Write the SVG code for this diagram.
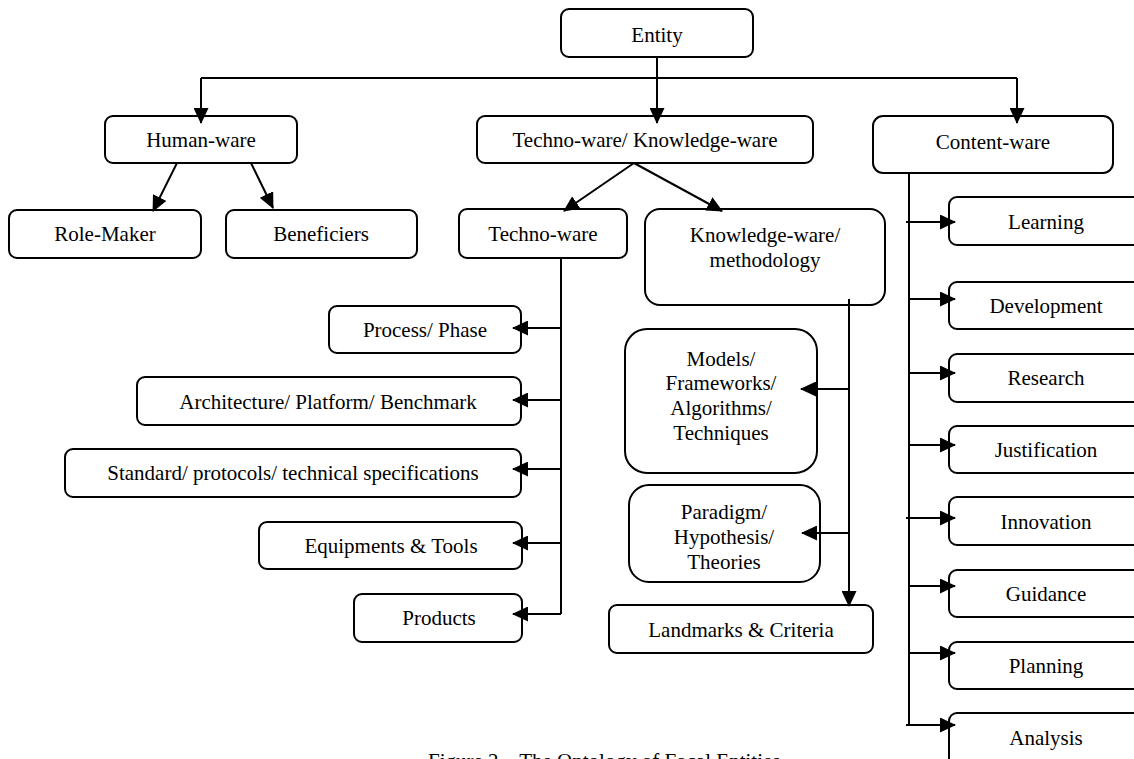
<svg xmlns="http://www.w3.org/2000/svg" width="1134" height="759" viewBox="0 0 1134 759">
<style>
.b{fill:#fff;stroke:#000;stroke-width:2}
.t{font-family:"Liberation Serif","Times New Roman",serif;font-size:21px;fill:#000;text-anchor:middle}
.c{fill:none;stroke:#000;stroke-width:2}
</style>
<defs>
<marker id="ah" viewBox="0 0 16 15" refX="15" refY="7.5" markerWidth="16" markerHeight="15" markerUnits="userSpaceOnUse" orient="auto"><path d="M0,0 L16,7.5 L0,15 z" fill="#000"/></marker>
</defs>
<rect width="1134" height="759" fill="#fff"/>

<g id="entity"><rect class="b" x="561" y="9" width="192" height="48" rx="8"/><text class="t" x="657" y="42">Entity</text></g>
<g id="humanware"><rect class="b" x="105" y="116" width="192" height="47" rx="8"/><text class="t" x="201" y="147">Human-ware</text></g>
<g id="techknow"><rect class="b" x="477" y="116" width="336" height="47" rx="8"/><text class="t" x="645" y="147">Techno-ware/ Knowledge-ware</text></g>
<g id="contentware"><rect class="b" x="873" y="116" width="240" height="57" rx="10"/><text class="t" x="993" y="149">Content-ware</text></g>
<g id="rolemaker"><rect class="b" x="9" y="210" width="192" height="48" rx="8"/><text class="t" x="105" y="241">Role-Maker</text></g>
<g id="beneficiers"><rect class="b" x="226" y="210" width="191" height="48" rx="8"/><text class="t" x="321" y="241">Beneficiers</text></g>
<g id="technoware"><rect class="b" x="459" y="209" width="168" height="49" rx="8"/><text class="t" x="543" y="241">Techno-ware</text></g>
<g id="knowledgeware"><rect class="b" x="645" y="209" width="240" height="96" rx="15"/><text class="t" x="765" y="242">Knowledge-ware/</text><text class="t" x="765" y="267">methodology</text></g>
<g id="process"><rect class="b" x="329" y="306" width="192" height="47" rx="8"/><text class="t" x="425" y="337">Process/ Phase</text></g>
<g id="architecture"><rect class="b" x="137" y="377" width="384" height="48" rx="8"/><text class="t" x="328" y="409">Architecture/ Platform/ Benchmark</text></g>
<g id="standard"><rect class="b" x="65" y="449" width="456" height="48" rx="8"/><text class="t" x="293" y="480">Standard/ protocols/ technical specifications</text></g>
<g id="equipments"><rect class="b" x="259" y="522" width="263" height="47" rx="8"/><text class="t" x="391" y="553">Equipments &amp; Tools</text></g>
<g id="products"><rect class="b" x="354" y="594" width="168" height="48" rx="8"/><text class="t" x="439" y="625">Products</text></g>
<g id="models"><rect class="b" x="625" y="329" width="192" height="144" rx="22"/><text class="t" x="721" y="366">Models/</text><text class="t" x="721" y="390">Frameworks/</text><text class="t" x="721" y="415">Algorithms/</text><text class="t" x="721" y="440">Techniques</text></g>
<g id="paradigm"><rect class="b" x="629" y="485" width="191" height="97" rx="20"/><text class="t" x="724" y="519">Paradigm/</text><text class="t" x="724" y="544">Hypothesis/</text><text class="t" x="724" y="569">Theories</text></g>
<g id="landmarks"><rect class="b" x="609" y="605" width="264" height="48" rx="8"/><text class="t" x="741" y="637">Landmarks &amp; Criteria</text></g>
<g id="learning"><rect class="b" x="949" y="197" width="200" height="48" rx="8"/><text class="t" x="1046" y="229">Learning</text></g>
<g id="development"><rect class="b" x="949" y="282" width="200" height="47" rx="8"/><text class="t" x="1046" y="313">Development</text></g>
<g id="research"><rect class="b" x="949" y="354" width="200" height="48" rx="8"/><text class="t" x="1046" y="385">Research</text></g>
<g id="justification"><rect class="b" x="949" y="426" width="200" height="47" rx="8"/><text class="t" x="1046" y="457">Justification</text></g>
<g id="innovation"><rect class="b" x="949" y="497" width="200" height="48" rx="8"/><text class="t" x="1046" y="529">Innovation</text></g>
<g id="guidance"><rect class="b" x="949" y="570" width="200" height="47" rx="8"/><text class="t" x="1046" y="601">Guidance</text></g>
<g id="planning"><rect class="b" x="949" y="642" width="200" height="47" rx="8"/><text class="t" x="1046" y="673">Planning</text></g>
<g id="analysis"><rect class="b" x="949" y="713" width="200" height="60" rx="8"/><text class="t" x="1046" y="745">Analysis</text></g>

<g id="connectors" class="c">
<path d="M657,57 V123" marker-end="url(#ah)"/>
<path d="M201,78 H1017"/>
<path d="M201,78 V123" marker-end="url(#ah)"/>
<path d="M1017,78 V123" marker-end="url(#ah)"/>
<path d="M177,163 L153,211" marker-end="url(#ah)"/>
<path d="M251,163 L273,208" marker-end="url(#ah)"/>
<path d="M634,163 L564,211" marker-end="url(#ah)"/>
<path d="M634,163 L722,211" marker-end="url(#ah)"/>
<path d="M561,258 V614"/>
<path d="M561,328 H513" marker-end="url(#ah)"/>
<path d="M561,400 H513" marker-end="url(#ah)"/>
<path d="M561,469 H513" marker-end="url(#ah)"/>
<path d="M561,543 H513" marker-end="url(#ah)"/>
<path d="M561,614 H513" marker-end="url(#ah)"/>
<path d="M849,299 V606" marker-end="url(#ah)"/>
<path d="M849,389 H801" marker-end="url(#ah)"/>
<path d="M849,533 H802" marker-end="url(#ah)"/>
<path d="M909,173 V725"/>
<path d="M906,222 H955" marker-end="url(#ah)"/>
<path d="M909,299 H955" marker-end="url(#ah)"/>
<path d="M909,373 H955" marker-end="url(#ah)"/>
<path d="M909,445 H955" marker-end="url(#ah)"/>
<path d="M906,518 H955" marker-end="url(#ah)"/>
<path d="M909,586 H955" marker-end="url(#ah)"/>
<path d="M909,653 H955" marker-end="url(#ah)"/>
<path d="M906,725 H955" marker-end="url(#ah)"/>
</g>

<text class="t" x="428" y="768" style="text-anchor:start">Figure 2 – The Ontology of Focal Entities</text>
</svg>
